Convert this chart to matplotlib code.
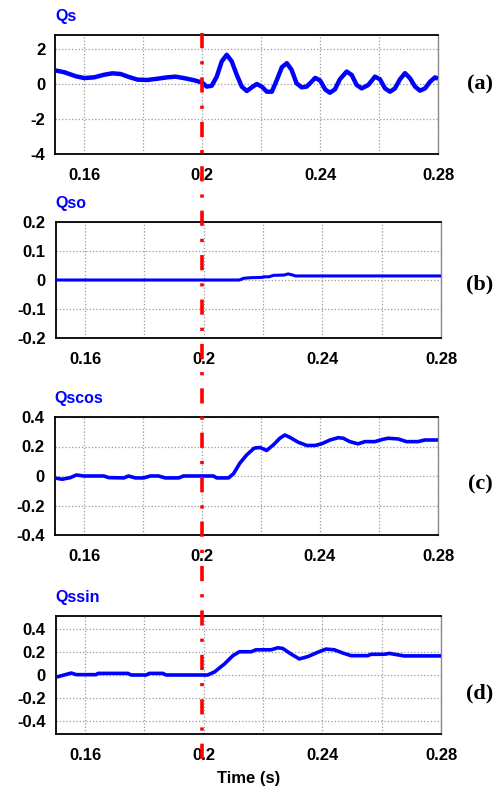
#!/usr/bin/env python3
"""
Qs-Komponenten nach dem Lastsprung bei t = 0.2 s
Vier gestapelte Zeitverläufe: Qs, Qso, Qscos, Qssin
"""

import matplotlib
matplotlib.use('Agg')  # Non-interactive backend
import matplotlib.pyplot as plt
import matplotlib.transforms as mtransforms
from matplotlib.lines import Line2D

# Daten
qs_t = [0.1500, 0.1532, 0.1571, 0.1599, 0.1633, 0.1667, 0.1695, 0.1723, 0.1751,
        0.1780, 0.1813, 0.1847, 0.1881, 0.1909, 0.1937, 0.1971, 0.2000, 0.2015,
        0.2032, 0.2049, 0.2066, 0.2083, 0.2100, 0.2117, 0.2134, 0.2151, 0.2168,
        0.2185, 0.2202, 0.2219, 0.2236, 0.2253, 0.2270, 0.2287, 0.2303, 0.2320,
        0.2337, 0.2354, 0.2371, 0.2383, 0.2400, 0.2417, 0.2433, 0.2450, 0.2467,
        0.2490, 0.2507, 0.2524, 0.2541, 0.2563, 0.2586, 0.2603, 0.2620, 0.2637,
        0.2654, 0.2671, 0.2688, 0.2705, 0.2722, 0.2739, 0.2756, 0.2773, 0.2790,
        0.2800]
qs_v = [0.78, 0.67, 0.44, 0.34, 0.38, 0.53, 0.61, 0.57, 0.40,
        0.25, 0.23, 0.30, 0.38, 0.42, 0.34, 0.22, 0.08, -0.15,
        -0.10, 0.42, 1.29, 1.67, 1.29, 0.52, -0.15, -0.40, -0.19,
        0.00, -0.15, -0.44, -0.44, 0.23, 0.96, 1.19, 0.81, 0.04,
        -0.19, -0.15, 0.13, 0.35, 0.20, -0.31, -0.50, -0.31, 0.27,
        0.71, 0.52, -0.06, -0.25, -0.06, 0.42, 0.27, -0.25, -0.44,
        -0.25, 0.27, 0.62, 0.33, -0.15, -0.38, -0.25, 0.13, 0.38,
        0.30]

qso_t = [0.150, 0.212, 0.2135, 0.216, 0.2195, 0.2205, 0.222, 0.2235, 0.227,
         0.2285, 0.2300, 0.2310, 0.280]
qso_v = [0.000, 0.000, 0.006, 0.008, 0.009, 0.011, 0.011, 0.016, 0.017,
         0.021, 0.017, 0.014, 0.014]

qscos_t = [0.1500, 0.1526, 0.1554, 0.1574, 0.1599, 0.1667, 0.1684, 0.1735, 0.1751,
           0.1774, 0.1802, 0.1825, 0.1853, 0.1875, 0.1921, 0.1937, 0.2000, 0.2039,
           0.2050, 0.2090, 0.2107, 0.2129, 0.2152, 0.2177, 0.2197, 0.2219, 0.2242,
           0.2264, 0.2281, 0.2298, 0.2326, 0.2355, 0.2383, 0.2405, 0.2434, 0.2462,
           0.2479, 0.2501, 0.2529, 0.2552, 0.2586, 0.2614, 0.2631, 0.2665, 0.2693,
           0.2732, 0.2755, 0.2800]
qscos_v = [-0.013, -0.022, -0.011, 0.007, 0.000, 0.000, -0.011, -0.013, 0.000,
           -0.013, -0.013, 0.000, 0.000, -0.013, -0.013, 0.000, 0.000, 0.000,
           -0.013, -0.013, 0.016, 0.089, 0.144, 0.189, 0.193, 0.173, 0.211,
           0.256, 0.278, 0.262, 0.229, 0.207, 0.207, 0.218, 0.244, 0.260,
           0.256, 0.233, 0.218, 0.233, 0.233, 0.249, 0.256, 0.251, 0.233,
           0.233, 0.244, 0.244]

qssin_t = [0.1504, 0.1525, 0.1553, 0.1570, 0.1637, 0.1643, 0.1744, 0.1755, 0.1806,
           0.1817, 0.1862, 0.1873, 0.2013, 0.2036, 0.2070, 0.2098, 0.2120, 0.2160,
           0.2176, 0.2227, 0.2249, 0.2266, 0.2294, 0.2322, 0.2351, 0.2384, 0.2412,
           0.2440, 0.2469, 0.2497, 0.2553, 0.2564, 0.2609, 0.2626, 0.2643, 0.2676,
           0.2800]
qssin_v = [-0.017, -0.003, 0.017, 0.003, 0.003, 0.014, 0.014, 0.000, 0.000,
           0.014, 0.014, 0.000, 0.000, 0.026, 0.096, 0.167, 0.201, 0.201,
           0.218, 0.218, 0.235, 0.230, 0.182, 0.139, 0.159, 0.196, 0.224,
           0.218, 0.190, 0.167, 0.167, 0.179, 0.179, 0.187, 0.179, 0.165,
           0.165]

# Achsen-Beschriftungen
x_ticks = [0.16, 0.20, 0.24, 0.28]
x_tick_labels = ['0.16', '0.2', '0.24', '0.28']
x_grid_minor = [0.18, 0.22, 0.26]

titles = ['Qs', 'Qso', 'Qscos', 'Qssin']
panel_tags = ['(a)', '(b)', '(c)', '(d)']
y_ticks = [
    [2, 0, -2, -4],
    [0.2, 0.1, 0, -0.1, -0.2],
    [0.4, 0.2, 0, -0.2, -0.4],
    [0.4, 0.2, 0, -0.2, -0.4],
]
y_tick_labels = [
    ['2', '0', '-2', '-4'],
    ['0.2', '0.1', '0', '-0.1', '-0.2'],
    ['0.4', '0.2', '0', '-0.2', '-0.4'],
    ['0.4', '0.2', '0', '-0.2', '-0.4'],
]
y_limits = [(-4, 2.8), (-0.2, 0.2), (-0.4, 0.4), (-0.51, 0.51)]
t_event = 0.2

# Layout in Pixeln (links, rechts, oben, unten)
W, H = 495, 787
BOXES = [(55, 438, 35, 154), (55.5, 441, 222, 338),
         (54.5, 438, 417, 535), (55.5, 441, 616, 734)]
TAG_Y = [84, 284, 484, 693]
LINE_W = [3.2, 2.2, 2.6, 2.6]

SANS = 'Liberation Sans'
SERIF = 'Liberation Serif'


def style_axes(ax, i):
    """Gitter, Rahmen und Ticks wie im Original"""
    ax.set_xlim(0.15, 0.28)
    ax.set_ylim(*y_limits[i])
    ax.set_xticks(x_ticks)
    ax.set_xticklabels(x_tick_labels)
    ax.set_xticks(x_grid_minor, minor=True)
    ax.set_yticks(y_ticks[i])
    ax.set_yticklabels(y_tick_labels[i])

    ax.grid(True, which='both', axis='x', color='#9a9a9a', linestyle=':', linewidth=0.9)
    ax.grid(True, which='major', axis='y', color='#9a9a9a', linestyle=':', linewidth=0.9)
    ax.tick_params(which='both', length=0)
    ax.tick_params(axis='x', pad=10)
    ax.tick_params(axis='y', pad=7)
    for lab in ax.get_xticklabels() + ax.get_yticklabels():
        lab.set_fontfamily(SANS)
        lab.set_fontweight('bold')
        lab.set_fontsize(12)

    for side in ['left', 'bottom', 'top']:
        ax.spines[side].set_color('black')
        ax.spines[side].set_linewidth(1.3)
    ax.spines['right'].set_color('#8a8a8a')
    ax.spines['right'].set_linewidth(1.0)


def main():
    fig = plt.figure(figsize=(W / 100, H / 100), dpi=100)

    series = [(qs_t, qs_v), (qso_t, qso_v), (qscos_t, qscos_v), (qssin_t, qssin_v)]
    axes = []
    for i, (l, r, t, b) in enumerate(BOXES):
        ax = fig.add_axes([l / W, 1 - b / H, (r - l) / W, (b - t) / H])
        style_axes(ax, i)
        x, y = series[i]
        ax.plot(x, y, color='#0000ff', linewidth=LINE_W[i], solid_joinstyle='round',
                solid_capstyle='butt', zorder=3)
        ax.set_title(titles[i], loc='left', pad=10, color='#0000ff',
                     fontfamily=SANS, fontweight='bold', fontsize=11.5)
        fig.text(480 / W, 1 - TAG_Y[i] / H, panel_tags[i], ha='center', va='center',
                 fontfamily=SERIF, fontweight='bold', fontsize=16)
        axes.append(ax)

    axes[-1].set_xlabel('Time (s)', fontfamily=SANS, fontweight='bold', fontsize=12,
                        labelpad=5.5)

    # Rote Strich-Punkt-Linie bei t = 0.2 s über alle Panels
    trans = mtransforms.blended_transform_factory(axes[0].transData, fig.transFigure)
    marker = Line2D([t_event, t_event], [1 - 33 / H, 1 - 762 / H], transform=trans,
                    color='#ff0000', linewidth=2.6, linestyle=(0, (4.2, 3.6, 0.9, 3.6)),
                    dash_capstyle='butt', zorder=10)
    fig.add_artist(marker)

    fig.savefig('out.png', dpi=100)
    plt.close(fig)


if __name__ == "__main__":
    main()
